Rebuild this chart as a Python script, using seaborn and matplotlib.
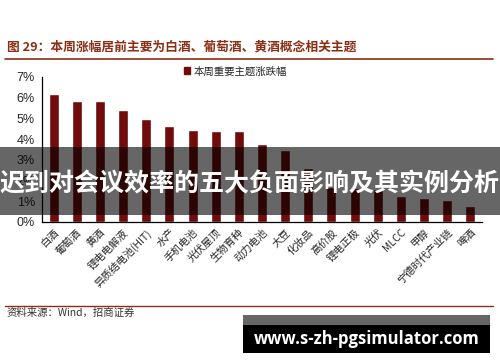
import matplotlib
matplotlib.use("Agg")
import matplotlib.pyplot as plt
import seaborn as sns
import pandas as pd
from matplotlib.patches import Patch, Rectangle

# data
themes = ['白酒', '葡萄酒', '黄酒', '锂电电解液', '异质结电池(HIT)', '水产', '手机电池',
          '光伏屋顶', '生物育种', '动力电池', '大豆', '化妆品', '高价股', '锂电正极',
          '光伏', 'MLCC', '甲醇', '宁德时代产业链', '啤酒']
weekly_change = [6.16, 5.82, 5.82, 5.39, 4.98, 4.63, 4.44, 4.39, 4.39, 3.74,
                 3.47, 2.60, 1.70, 1.65, 1.60, 1.22, 1.15, 1.07, 0.77]
y_ticks = [0, 1, 2, 3, 4, 5, 6, 7]
y_tick_labels = ['0%', '1%', '2%', '3%', '4%', '5%', '6%', '7%']

title = '图 29：本周涨幅居前主要为白酒、葡萄酒、黄酒概念相关主题'
legend_label = '本周重要主题涨跌幅'
source = '资料来源：Wind，招商证券'
banner = '迟到对会议效率的五大负面影响及其实例分析'
watermark = 'www.s-zh-pgsimulator.com'

sns.set_style('white')
plt.rcParams['font.family'] = ['Noto Sans CJK SC', 'DejaVu Sans']

bar_color = '#700c0c'
brown = '#8b2e16'

df = pd.DataFrame({'theme': themes, 'change': weekly_change})

fig = plt.figure(figsize=(5, 3.62), dpi=100)
ax = fig.add_axes([0.084, 0.3876, 0.88, 0.3997])
sns.barplot(data=df, x='theme', y='change', color=bar_color, width=0.43,
            saturation=1, ax=ax)
ax.set_xlim(-0.5, len(themes) - 0.5)
ax.set_ylim(0, 7)
ax.set_xlabel('')
ax.set_ylabel('')

ax.set_yticks(y_ticks)
ax.set_yticklabels(y_tick_labels, family=['Liberation Sans'], fontsize=9)
ax.set_xticks(range(len(themes)))
ax.set_xticklabels(themes, rotation=45, ha='right', rotation_mode='anchor',
                   fontsize=7.5)
ax.tick_params(axis='x', which='major', length=0, pad=4)
ax.set_xticks([i - 0.5 for i in range(len(themes) + 1)], minor=True)
ax.tick_params(axis='x', which='minor', length=3, width=0.8, color='black',
               direction='out')
ax.tick_params(axis='y', length=3, width=0.8, color='black', direction='out', pad=2)
for s in ['top', 'right']:
    ax.spines[s].set_visible(False)
for s in ['left', 'bottom']:
    ax.spines[s].set_color('black')
    ax.spines[s].set_linewidth(0.9)

ax.legend(handles=[Patch(color=bar_color, label=legend_label)],
          loc='center', bbox_to_anchor=(0.44, 1.04), frameon=False,
          fontsize=7.5, handlelength=0.6, handleheight=0.6, handletextpad=0.3)

# header and footer
fig.text(0.014, 0.87, title, fontsize=9.2, fontweight='bold', color=brown,
         va='center', ha='left')
fig.add_artist(plt.Line2D([0.01, 0.986], [0.837, 0.837], color=brown, lw=1.2))
fig.add_artist(plt.Line2D([0.01, 0.986], [0.155, 0.155], color=brown, lw=1.0))
fig.text(0.014, 0.135, source, fontsize=7.5, color='#333333', va='center', ha='left')

# overlays seen on the reference
fig.add_artist(Rectangle((0, 0.406), 1, 0.188, transform=fig.transFigure,
                         color='black', alpha=0.6, lw=0, zorder=10))
fig.text(0.5, 0.49, banner, fontsize=18, fontweight='bold', color='white',
         ha='center', va='center', zorder=11)
fig.add_artist(Rectangle((0.486, 0.102), 0.494, 0.028, transform=fig.transFigure,
                         color='#666666', lw=0, zorder=10))
fig.add_artist(Rectangle((0.486, 0.025), 0.494, 0.077, transform=fig.transFigure,
                         color='black', lw=0, zorder=10))
fig.text(0.733, 0.064, watermark, fontsize=12, fontweight='bold', color='white',
         family=['Open Sans', 'DejaVu Sans'], ha='center', va='center', zorder=11)

fig.savefig('out.png', dpi=100)
